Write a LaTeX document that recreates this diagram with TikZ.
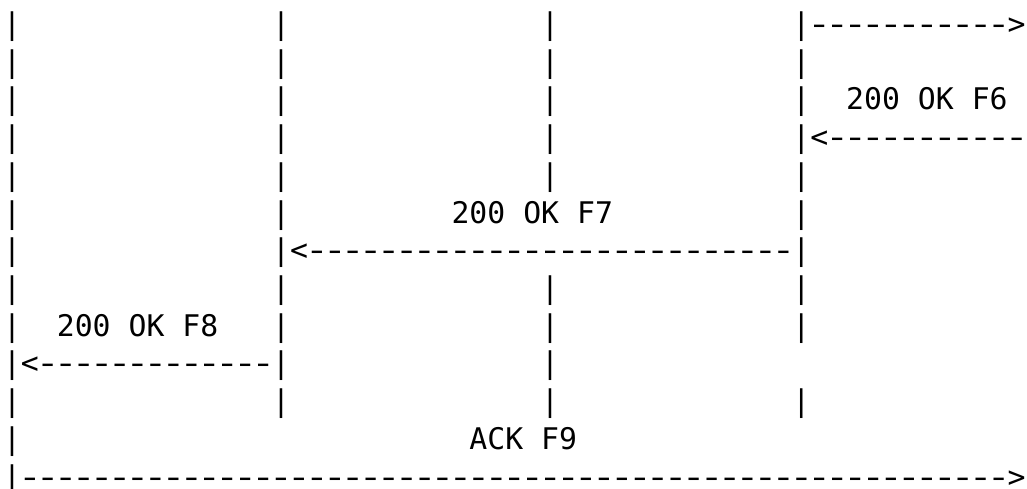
\documentclass[tikz,border=0pt]{standalone}
\usepackage{graphicx}
\usepackage{fontspec}
\setmonofont{DejaVu Sans Mono}
% one hyphen, stretched a little inside its own character cell
\newcommand\dsh{\makebox[\fontcharwd\font`\-][c]{\scalebox{1.35}[1]{-}}}
% a run of n such hyphens, for the dashed message lines
\ExplSyntaxOn
\NewDocumentCommand\dashrun{m}{\prg_replicate:nn{#1}{\dsh}}
\ExplSyntaxOff
\newcommand\asciifont{\ttfamily\fontsize{29.8pt}{37.7pt}\selectfont}
\begin{document}
\begin{tikzpicture}[x=17.94pt,y=-37.7pt,
  ch/.style={anchor=base west, inner sep=0pt, outer sep=0pt, font=\asciifont}]
\useasboundingbox (0pt,0pt) rectangle (1027pt,-489pt);
\begin{scope}[shift={(3pt,-34.6pt)}]
  % lifelines, one bar per text row
  \foreach \r in {0,...,8,10,11} \node[ch] (lifeA-\r) at (0,\r) {|};
  \foreach \r in {0,...,5,7,8,10} \node[ch] (lifeB-\r) at (15,\r) {|};
  \foreach \r in {0,...,4,7,8,9,10} \node[ch] (lifeC-\r) at (30,\r) {|};
  \foreach \r in {1,2,4,5,7,8,10} \node[ch] (lifeD-\r) at (44,\r) {|};
  % messages
  \node[ch] (msgF5) at (44,0) {|\dashrun{11}>};
  \node[ch] (lblF6) at (47,2) {200 OK F6};
  \node[ch] (msgF6) at (44,3) {|<\dashrun{11}};
  \node[ch] (lblF7) at (25,5) {200 OK F7};
  \node[ch] (msgF7) at (15,6) {|<\dashrun{27}|};
  \node[ch] (lblF8) at (3,8) {200 OK F8};
  \node[ch] (msgF8) at (0,9) {|<\dashrun{13}|};
  \node[ch] (lblF9) at (26,11) {ACK F9};
  \node[ch] (msgF9) at (0,12) {|\dashrun{55}>};
\end{scope}
\end{tikzpicture}
\end{document}
